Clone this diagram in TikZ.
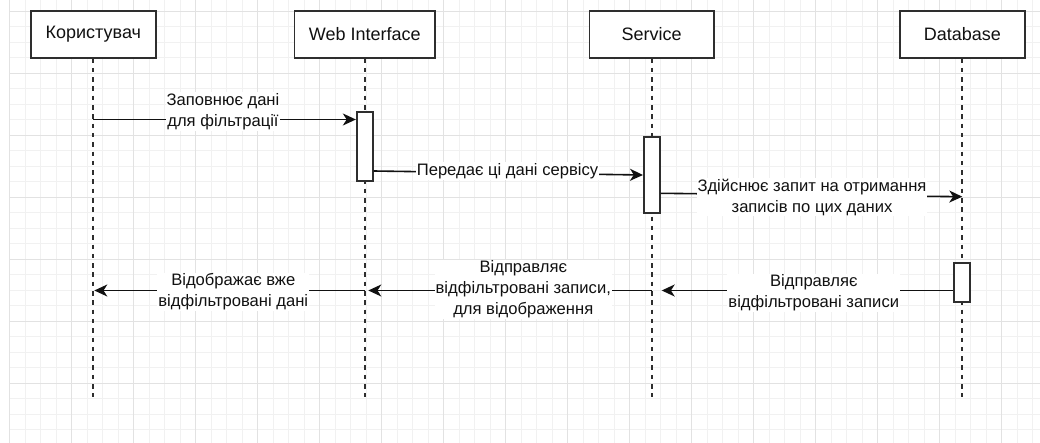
\documentclass[tikz,border=0pt]{standalone}
\usepackage{fontspec}
\setmainfont{Liberation Sans}
\usetikzlibrary{arrows.meta}
\definecolor{gridminor}{HTML}{F1F1F1}
\definecolor{gridmajor}{HTML}{E2E2E2}
\definecolor{ink}{HTML}{111111}
\definecolor{edge}{HTML}{2E2E2E}
\begin{document}
\begin{tikzpicture}[x=1pt,y=-1pt,
  head/.style={draw=edge, line width=1.7pt, fill=white, minimum height=46.7pt,
    inner sep=0pt, font=\fontsize{18}{21}\selectfont, text=ink},
  actbar/.style={draw=edge, line width=1.7pt, fill=white, minimum width=16pt, inner sep=0pt},
  life/.style={draw=edge, line width=1.7pt, dash pattern=on 4.5pt off 4.8pt},
  msg/.style={draw=ink, line width=1.6pt, -{Stealth[length=13pt,width=12pt,inset=3.8pt]}},
  lbl/.style={fill=white, inner sep=1pt, align=center,
    font=\fontsize{16.6}{21}\selectfont, text=ink}]

% canvas and grid
\fill[white] (0,0) rectangle (1040,443);
\useasboundingbox (0,0) rectangle (1040,443);
\foreach \k in {0,...,66}
  \draw[gridminor, line width=1pt] ({9.7+15.5*\k},0) -- ({9.7+15.5*\k},443);
\foreach \k in {0,...,27}
  \draw[gridminor, line width=1pt] (9.7,{11.3+15.5*\k}) -- (1040,{11.3+15.5*\k});
\foreach \k in {0,...,16}
  \draw[gridmajor, line width=1pt] ({9.7+62*\k},0) -- ({9.7+62*\k},443);
\foreach \k in {0,...,6}
  \draw[gridmajor, line width=1pt] (9.7,{11.3+62*\k}) -- (1040,{11.3+62*\k});

% participants
\node[head, minimum width=124.7pt] (user) at (93.3,34.35) {Користувач};
\node[head, minimum width=140.7pt] (web)  at (364.7,34.35) {Web Interface};
\node[head, minimum width=124.7pt] (svc)  at (651.7,34.35) {Service};
\node[head, minimum width=124.7pt] (db)   at (962.3,34.35) {Database};

% lifelines
\coordinate (yend) at (0,396.7);
\draw[life] (user) -- (user.south |- yend);
\draw[life] (web)  -- (web.south |- yend);
\draw[life] (svc)  -- (svc.south |- yend);
\draw[life] (db)   -- (db.south |- yend);

% activation bars
\node[actbar, minimum height=69pt]   (webA) at (364.7,146.2) {};
\node[actbar, minimum height=76pt]   (svcA) at (651.85,174.7) {};
\node[actbar, minimum height=38.4pt] (dbA)  at (962,282.5) {};

% message levels
\coordinate (m1)  at (0,119.5);
\coordinate (m2a) at (0,171);
\coordinate (m2b) at (0,175);
\coordinate (m3a) at (0,193.3);
\coordinate (m3b) at (0,196.7);
\coordinate (mr)  at (0,290.5);
\coordinate (m4end) at (661.7,290.5);
\coordinate (m5end) at (368.3,290.5);
\coordinate (m6end) at (94.3,290.5);

% messages
\draw[msg] (user.south |- m1) -- (webA.west |- m1);
\draw[msg] (webA.east |- m2a) -- (svcA.west |- m2b);
\draw[msg] (svcA.east |- m3a) -- (db.south |- m3b);
\draw[msg] (dbA.west |- mr) -- (m4end);
\draw[msg] (svc.south |- mr) -- (m5end);
\draw[msg] (web.south |- mr) -- (m6end);

% message labels
\node[lbl] (l1) at (223,111.5) {Заповнює дані\\для фільтрації};
\node[lbl] (l2) at (507.5,171) {Передає ці дані сервісу};
\node[lbl] (l3) at (812,197) {Здійснює запит на отримання\\записів по цих даних};
\node[lbl] (l4) at (813.8,293) {Відправляє\\відфільтровані записи};
\node[lbl] (l5) at (523.3,289.5) {Відправляє\\відфільтровані записи,\\для відображення};
\node[lbl] (l6) at (233.3,292) {Відображає вже\\відфільтровані дані};
\end{tikzpicture}
\end{document}
